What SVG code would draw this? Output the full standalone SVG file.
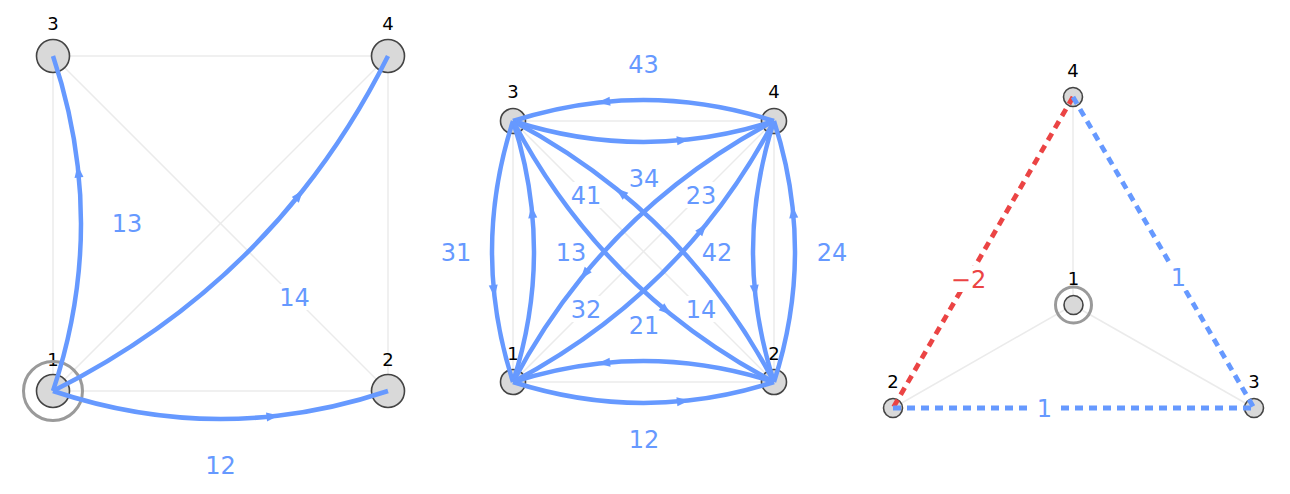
<svg xmlns="http://www.w3.org/2000/svg" width="1290" height="494" viewBox="0 0 1290 494">
<style>
.bg{fill:#ffffff}
.light{stroke:#ebebeb;stroke-width:1.5;fill:none}
.node{fill:#d9d9d9;stroke:#444444;stroke-width:1.6}
.ring{fill:none;stroke:#9a9a9a;stroke-width:3}
.arc{fill:none;stroke:#6699ff;stroke-width:4.5;marker-mid:url(#ah)}
.dash{fill:none;stroke-width:4.8;stroke-dasharray:8 6}
.nl{font-family:"DejaVu Sans",sans-serif;font-size:18px;fill:#000000;text-anchor:middle}
.el{font-family:"DejaVu Sans",sans-serif;font-size:24px;fill:#6699ff;text-anchor:middle}
.red{fill:#eb4444}
.lbg{fill:#ffffff}
</style>
<defs>
<marker id="ah" markerUnits="userSpaceOnUse" viewBox="-14 -6 16 12" markerWidth="16" markerHeight="12" refX="0" refY="0" orient="auto">
<path d="M1.5,0 L-11,-4.5 L-11,4.5 Z" fill="#6699ff"/>
</marker>
</defs>
<rect class="bg" x="0" y="0" width="1290" height="494"/>

<!-- Panel 1 -->
<g id="p1-light">
<line class="light" x1="53" y1="56" x2="388" y2="56"/>
<line class="light" x1="53" y1="56" x2="53" y2="391"/>
<line class="light" x1="388" y1="56" x2="388" y2="391"/>
<line class="light" x1="53" y1="391" x2="388" y2="391"/>
<line class="light" x1="53" y1="56" x2="388" y2="391"/>
<line class="light" x1="53" y1="391" x2="388" y2="56"/>
</g>
<g id="p1-labels">
<rect class="lbg" x="109" y="211" width="36" height="26"/><text class="el" x="127" y="232">13</text>
<rect class="lbg" x="276" y="284" width="36" height="26"/><text class="el" x="294.5" y="305.5">14</text>
<rect class="lbg" x="202" y="452" width="36" height="26"/><text class="el" x="220.5" y="474">12</text>
</g>
<g id="p1-n3"><circle class="node" cx="53" cy="56" r="16.5"/><text class="nl" x="53" y="30">3</text></g>
<g id="p1-n4"><circle class="node" cx="388" cy="56" r="16.5"/><text class="nl" x="388" y="30">4</text></g>
<g id="p1-n2"><circle class="node" cx="388" cy="391" r="16.5"/><text class="nl" x="388" y="366">2</text></g>
<g id="p1-n1"><text class="nl" x="53" y="366">1</text><circle class="ring" cx="53" cy="391" r="29.5"/><circle class="node" cx="53" cy="391" r="16.5"/></g>
<g id="p1-edges">
<path class="arc" d="M53,391 Q90.52,278.78 77.76,166.55 Q71.48,111.28 53,56"/>
<path class="arc" d="M53,391 Q165.23,428.52 277.45,415.76 Q332.73,409.48 388,391"/>
<path class="arc" d="M53,391 Q202.68,316.23 302.17,191.27 Q351.17,129.72 388,56"/>
</g>

<!-- Panel 2 -->
<g id="p2-light">
<line class="light" x1="513" y1="121" x2="774" y2="121"/>
<line class="light" x1="513" y1="121" x2="513" y2="382"/>
<line class="light" x1="774" y1="121" x2="774" y2="382"/>
<line class="light" x1="513" y1="382" x2="774" y2="382"/>
<line class="light" x1="513" y1="121" x2="774" y2="382"/>
<line class="light" x1="513" y1="382" x2="774" y2="121"/>
</g>
<g id="p2-labels">
<rect class="lbg" x="626" y="51" width="36" height="26"/><text class="el" x="643.5" y="72.5">43</text>
<rect class="lbg" x="626" y="165" width="36" height="26"/><text class="el" x="644" y="187">34</text>
<rect class="lbg" x="568" y="182" width="36" height="26"/><text class="el" x="586" y="203.5">41</text>
<rect class="lbg" x="683" y="182" width="36" height="26"/><text class="el" x="701" y="203.5">23</text>
<rect class="lbg" x="438" y="239" width="36" height="26"/><text class="el" x="456" y="260.5">31</text>
<rect class="lbg" x="553" y="239" width="36" height="26"/><text class="el" x="571" y="260.5">13</text>
<rect class="lbg" x="699" y="239" width="36" height="26"/><text class="el" x="717" y="260.5">42</text>
<rect class="lbg" x="814" y="239" width="36" height="26"/><text class="el" x="832" y="260.5">24</text>
<rect class="lbg" x="568" y="296" width="36" height="26"/><text class="el" x="586" y="318">32</text>
<rect class="lbg" x="683" y="296" width="36" height="26"/><text class="el" x="701" y="318">14</text>
<rect class="lbg" x="626" y="312" width="36" height="26"/><text class="el" x="644" y="334">21</text>
<rect class="lbg" x="626" y="426" width="36" height="26"/><text class="el" x="644" y="448">12</text>
</g>
<g id="p2-n3"><circle class="node" cx="513" cy="121" r="12.5"/><text class="nl" x="513" y="98">3</text></g>
<g id="p2-n4"><circle class="node" cx="774" cy="121" r="12.5"/><text class="nl" x="774" y="98">4</text></g>
<g id="p2-n1"><circle class="node" cx="513" cy="382" r="12.5"/><text class="nl" x="513" y="359.5">1</text></g>
<g id="p2-n2"><circle class="node" cx="774" cy="382" r="12.5"/><text class="nl" x="774" y="359.5">2</text></g>
<g id="p2-edges">
<path class="arc" d="M774,121 Q686.56,92.86 599.13,102.43 Q556.06,107.14 513,121"/>
<path class="arc" d="M513,121 Q600.44,149.14 687.87,139.57 Q730.94,134.86 774,121"/>
<path class="arc" d="M513,382 Q600.44,410.14 687.87,400.57 Q730.94,395.86 774,382"/>
<path class="arc" d="M774,382 Q686.56,353.86 599.13,363.43 Q556.06,368.14 513,382"/>
<path class="arc" d="M513,121 Q484.86,208.44 494.43,295.87 Q499.14,338.94 513,382"/>
<path class="arc" d="M513,382 Q541.14,294.56 531.57,207.13 Q526.86,164.06 513,121"/>
<path class="arc" d="M774,382 Q802.14,294.56 792.57,207.13 Q787.86,164.06 774,121"/>
<path class="arc" d="M774,121 Q745.86,208.44 755.43,295.87 Q760.14,338.94 774,382"/>
<path class="arc" d="M774,121 Q659.56,181.44 581.31,278.05 Q542.76,325.64 513,382"/>
<path class="arc" d="M513,382 Q627.44,321.56 705.69,224.95 Q744.24,177.36 774,121"/>
<path class="arc" d="M774,382 Q713.56,267.56 616.95,189.31 Q569.36,150.76 513,121"/>
<path class="arc" d="M513,121 Q573.44,235.44 670.05,313.69 Q717.64,352.24 774,382"/>
</g>

<!-- Panel 3 -->
<g id="p3-light">
<line class="light" x1="1073" y1="97" x2="1073" y2="305"/>
<line class="light" x1="1073" y1="305" x2="893" y2="408"/>
<line class="light" x1="1073" y1="305" x2="1254" y2="408"/>
</g>
<g id="p3-n4"><circle class="node" cx="1073" cy="97" r="9.5"/><text class="nl" x="1073" y="76.5">4</text></g>
<g id="p3-n1"><circle class="ring" cx="1073.5" cy="305" r="18"/><circle class="node" cx="1073.5" cy="305" r="9.5"/><text class="nl" x="1073.5" y="284.5">1</text></g>
<g id="p3-n2"><circle class="node" cx="893" cy="408" r="9.5"/><text class="nl" x="893" y="388">2</text></g>
<g id="p3-n3"><circle class="node" cx="1254" cy="408" r="9.5"/><text class="nl" x="1254" y="388">3</text></g>
<g id="p3-edges">
<line class="dash" stroke="#eb4444" x1="1073" y1="97" x2="893" y2="408"/>
<line class="dash" stroke="#6699ff" x1="1073" y1="97" x2="1254" y2="408"/>
<line class="dash" stroke="#6699ff" x1="893" y1="408" x2="1254" y2="408"/>
</g>
<g id="p3-labels">
<rect class="lbg" x="950" y="266" width="38" height="26"/><text class="el red" x="968.5" y="288">−2</text>
<rect class="lbg" x="1168" y="264" width="21" height="26"/><text class="el" x="1178.5" y="285.5">1</text>
<rect class="lbg" x="1033" y="395" width="23" height="26"/><text class="el" x="1044.5" y="417">1</text>
</g>
</svg>
